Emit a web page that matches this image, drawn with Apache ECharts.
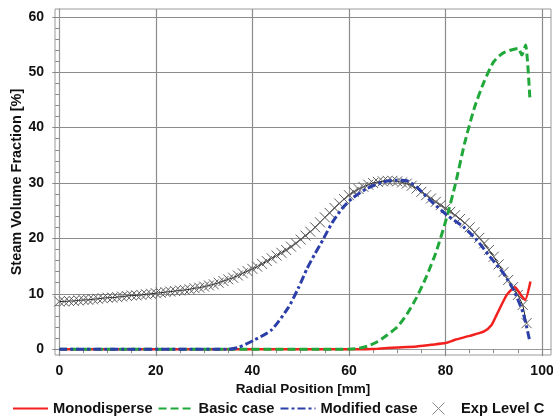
<!DOCTYPE html>
<html>
<head>
<meta charset="utf-8">
<script src="https://cdn.jsdelivr.net/npm/echarts@6/dist/echarts.min.js"></script>
<style>html,body{margin:0;padding:0;background:#fff}#c{width:553px;height:418px}</style>
</head>
<body>
<div id="c"></div>
<script>
// ---- data ----
const xTickLabels = [0, 20, 40, 60, 80, 100];
const xMinorTicks = [5, 10, 15, 25, 30, 35, 45, 50, 55, 65, 70, 75, 85, 90, 95];
const yTickLabels = [0, 10, 20, 30, 40, 50, 60];
const yMinorTicks = [2, 4, 6, 8, 12, 14, 16, 18, 22, 24, 26, 28, 32, 34, 36, 38, 42, 44, 46, 48, 52, 54, 56, 58];

const monoX = [0, 62, 66, 70, 74, 77, 80, 82, 85, 88, 89.5, 90.6, 92.7, 94.4, 95.6, 96.5, 97.6];
const monoY = [0, 0, 0.1, 0.3, 0.5, 0.8, 1.1, 1.7, 2.4, 3.2, 4.3, 6.2, 9.8, 11.2, 9.8, 8.9, 12.2];

const basicX = [0, 60, 61.6, 64, 66, 68, 70, 72, 74, 76, 78, 80, 82, 84, 86, 88, 90, 92, 95.1, 95.8, 96.6, 97.5];
const basicY = [0, 0, 0.1, 0.6, 1.4, 2.6, 4.0, 6.3, 9.3, 13.0, 17.4, 23.0, 29.6, 37.3, 43.6, 48.3, 51.9, 53.5, 54.3, 53.1, 54.9, 45];

const modX = [0, 35, 37, 40.5, 44, 47.5, 49.5, 51.3, 53, 54.7, 56.5, 58.5, 60.5, 63.7, 67.1, 70, 72, 74, 76.8, 80.3, 83.7, 86.5, 89.2, 92, 94.1, 96.1, 97.4];
const modY = [0, 0, 0.3, 1.7, 3.5, 7.6, 11.0, 14.5, 17.3, 19.9, 22.8, 25.3, 27.1, 29.0, 30.2, 30.5, 30.4, 29.3, 26.9, 24.2, 22.1, 19.7, 16.7, 13.7, 10.7, 6.5, 1.7];

const expX = [0,1,2,3,4,5,6,7,8,9,10,11,12,13,14,15,16,17,18,19,20,21,22,23,24,25,26,27,28,29,30,31,32,33,34,35,36,37,38,39,40,41,42,43,44,45,46,47,48,49,50,51,52,53,54,55,56,57,58,59,60,61,62,63,64,65,66,67,68,69,70,71,72,73,74,75,76,77,78,79,80,81,82,83,84,85,86,87,88,89,90,91,92,93,94,95,96,96.8];
const expY = [8.6,8.6,8.7,8.7,8.8,8.9,8.9,9.0,9.1,9.2,9.3,9.3,9.4,9.5,9.6,9.7,9.7,9.8,9.9,10.0,10.1,10.2,10.3,10.4,10.5,10.6,10.7,10.8,11.0,11.1,11.3,11.5,11.7,12.0,12.3,12.6,12.9,13.3,13.7,14.1,14.5,14.9,15.4,15.9,16.4,16.9,17.4,17.9,18.5,19.1,19.8,20.5,21.2,22.0,22.9,23.8,24.6,25.5,26.3,27.1,27.8,28.4,28.9,29.3,29.7,30.0,30.2,30.3,30.4,30.4,30.3,30.1,29.9,29.5,29.0,28.4,27.8,27.2,26.6,26.0,25.4,24.8,24.2,23.5,22.8,22.0,21.1,20.1,19.1,17.9,16.7,15.3,13.9,12.5,11.2,9.8,8.0,4.7];

const names = ['Monodisperse', 'Basic case', 'Modified case', 'Exp Level C'];

const zip = (xs, ys) => xs.map((x, i) => [x, ys[i]]);
const FONT = '"Liberation Sans", Arial, sans-serif';
const crossPath = 'path://M0,0L10,10M10,0L0,10';
const gridColor = '#8c8c8c';

const chart = echarts.init(document.getElementById('c'), null, {renderer: 'canvas'});
const xMin = -0.89, xMax = 101.86, yMin = -1.05, yMax = 61.41;
const hideSym = {itemStyle: {opacity: 0}};
const legendText = {fontFamily: FONT, fontWeight: 'bold', fontSize: 14.7, color: '#111'};

chart.setOption({
  animation: false,
  backgroundColor: '#fff',
  grid: {left: 55, right: 2, top: 9, bottom: 63, show: true, borderColor: '#9a9a9a', borderWidth: 1, containLabel: false, outerBoundsMode: 'none'},
  legend: [{
    left: 12, top: 401, padding: 0, itemWidth: 35, itemHeight: 12, itemGap: 5,
    textStyle: legendText,
    data: [
      Object.assign({name: names[0]}, hideSym),
      Object.assign({name: names[1]}, hideSym),
      Object.assign({name: names[2]}, hideSym)
    ]
  }, {
    left: 432, top: 401, padding: 0, itemWidth: 35, itemHeight: 12,
    textStyle: legendText,
    data: [
      {name: names[3], icon: crossPath, itemStyle: {color: 'rgba(0,0,0,0)', borderColor: '#888', borderWidth: 1, opacity: 1}}
    ]
  }],
  xAxis: [{
    type: 'value', min: xMin, max: xMax, position: 'bottom',
    name: 'Radial Position [mm]', nameLocation: 'middle', nameGap: 27, nameMoveOverlap: false,
    nameTextStyle: {fontFamily: FONT, fontWeight: 'bold', fontSize: 13.5, color: '#111'},
    axisLine: {show: true, lineStyle: {color: '#9a9a9a'}},
    axisTick: {show: true, customValues: xTickLabels, length: 7, lineStyle: {color: '#888'}},
    axisLabel: {customValues: xTickLabels, margin: 9, fontFamily: FONT, fontWeight: 'bold', fontSize: 14, color: '#111'},
    splitLine: {show: true, lineStyle: {color: gridColor, width: 1.2}}
  }, {
    type: 'value', min: xMin, max: xMax, position: 'bottom',
    axisLine: {show: false}, axisLabel: {show: false}, splitLine: {show: false},
    axisTick: {show: true, customValues: xMinorTicks, length: 4, lineStyle: {color: '#888'}}
  }],
  yAxis: [{
    type: 'value', min: yMin, max: yMax, position: 'left',
    name: 'Steam Volume Fraction [%]', nameLocation: 'middle', nameGap: 31, nameMoveOverlap: false,
    nameTextStyle: {fontFamily: FONT, fontWeight: 'bold', fontSize: 14.5, color: '#111'},
    axisLine: {show: true, lineStyle: {color: '#9a9a9a'}},
    axisTick: {show: true, customValues: yTickLabels, length: 7, lineStyle: {color: '#888'}},
    axisLabel: {customValues: yTickLabels, margin: 11, fontFamily: FONT, fontWeight: 'bold', fontSize: 14, color: '#111'},
    splitLine: {show: true, lineStyle: {color: gridColor, width: 1.2}}
  }, {
    type: 'value', min: yMin, max: yMax, position: 'left',
    axisLine: {show: false}, axisLabel: {show: false}, splitLine: {show: false},
    axisTick: {show: true, customValues: yMinorTicks, length: 4, lineStyle: {color: '#888'}}
  }],
  series: [
    {
      name: names[3], type: 'line', data: zip(expX, expY), z: 2,
      symbol: crossPath, symbolSize: 10, showSymbol: true,
      itemStyle: {color: 'rgba(0,0,0,0)', borderColor: '#5e5e5e', borderWidth: 1},
      lineStyle: {color: '#222', width: 1}
    },
    {
      name: names[0], type: 'line', data: zip(monoX, monoY), z: 3,
      symbol: 'none', smooth: 0.2, itemStyle: {color: '#f2211e'},
      lineStyle: {color: '#f2211e', width: 2.5}
    },
    {
      name: names[1], type: 'line', data: zip(basicX, basicY), z: 4,
      symbol: 'none', smooth: 0.2, itemStyle: {color: '#21a83a'},
      lineStyle: {color: '#21a83a', width: 3, type: [8, 4]}
    },
    {
      name: names[2], type: 'line', data: zip(modX, modY), z: 5,
      symbol: 'none', smooth: 0.2, itemStyle: {color: '#2c3fa8'},
      lineStyle: {color: '#2c3fa8', width: 3, type: [8, 3, 3, 3]}
    }
  ]
});
</script>
</body>
</html>
